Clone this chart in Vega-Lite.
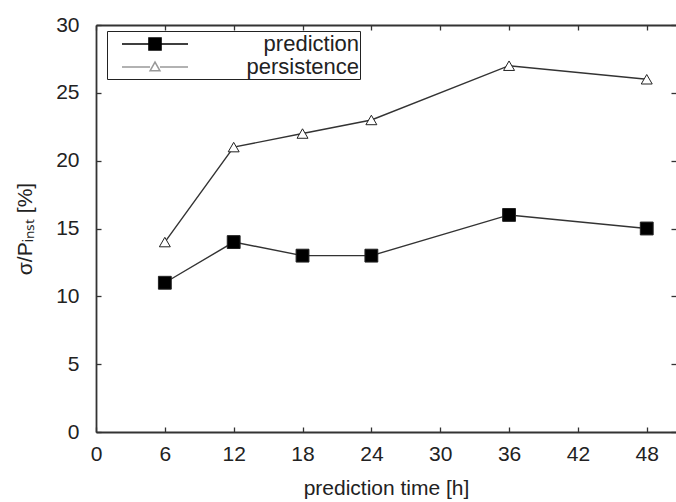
{
  "$schema": "https://vega.github.io/schema/vega-lite/v6.json",
  "width": 580,
  "height": 407,
  "autosize": {"type": "none"},
  "padding": {"left": 96, "top": 25, "right": 0, "bottom": 70},
  "background": "white",
  "config": {
    "view": {"stroke": null},
    "font": "Liberation Sans, Arial",
    "axis": {
      "grid": false,
      "domainColor": "#333",
      "domainWidth": 1.8,
      "tickColor": "#333",
      "tickWidth": 1.3,
      "tickSize": -5,
      "labelFont": "Liberation Sans, Arial",
      "labelFontSize": 21,
      "labelColor": "#222",
      "titleFont": "Liberation Sans, Arial",
      "titleFontSize": 21,
      "titleFontWeight": "normal",
      "titleColor": "#222"
    }
  },
  "data": {
    "values": [
      {"h": 6, "value": 11, "series": "prediction"},
      {"h": 12, "value": 14, "series": "prediction"},
      {"h": 18, "value": 13, "series": "prediction"},
      {"h": 24, "value": 13, "series": "prediction"},
      {"h": 36, "value": 16, "series": "prediction"},
      {"h": 48, "value": 15, "series": "prediction"},
      {"h": 6, "value": 14, "series": "persistence"},
      {"h": 12, "value": 21, "series": "persistence"},
      {"h": 18, "value": 22, "series": "persistence"},
      {"h": 24, "value": 23, "series": "persistence"},
      {"h": 36, "value": 27, "series": "persistence"},
      {"h": 48, "value": 26, "series": "persistence"}
    ]
  },
  "layer": [
    {
      "mark": {"type": "line", "color": "#333", "strokeWidth": 1.4},
      "encoding": {
        "x": {
          "field": "h", "type": "quantitative",
          "scale": {"domain": [0, 50.55], "nice": false, "zero": false},
          "axis": {"orient": "bottom", "values": [0, 6, 12, 18, 24, 30, 36, 42, 48], "labelPadding": 16, "title": "prediction time [h]", "titlePadding": 13, "labelFlush": false}
        },
        "y": {
          "field": "value", "type": "quantitative",
          "scale": {"domain": [0, 30], "nice": false},
          "axis": {"orient": "left", "values": [0, 5, 10, 15, 20, 25, 30], "labelPadding": 22, "title": "σ/Pᵢₙₛₜ [%]", "titlePadding": 20}
        },
        "detail": {"field": "series"}
      }
    },
    {
      "mark": {"type": "point", "filled": true, "stroke": "#222", "strokeWidth": 1, "opacity": 1},
      "encoding": {
        "x": {
          "field": "h", "type": "quantitative",
          "scale": {"domain": [0, 50.55], "nice": false, "zero": false},
          "axis": {"orient": "top", "values": [0, 6, 12, 18, 24, 30, 36, 42, 48], "labels": false, "title": null}
        },
        "y": {
          "field": "value", "type": "quantitative",
          "scale": {"domain": [0, 30], "nice": false},
          "axis": {"orient": "right", "values": [0, 5, 10, 15, 20, 25, 30], "labels": false, "title": null, "domain": false}
        },
        "shape": {
          "condition": {"test": "datum.series === 'prediction'", "value": "square"},
          "value": "triangle-up"
        },
        "fill": {
          "condition": {"test": "datum.series === 'prediction'", "value": "#000"},
          "value": "#fff"
        },
        "size": {
          "condition": {"test": "datum.series === 'prediction'", "value": 165},
          "value": 120
        }
      }
    },
    {
      "mark": {"type": "point", "filled": true, "opacity": 0},
      "encoding": {
        "x": {"field": "h", "type": "quantitative", "scale": {"domain": [0, 50.55], "nice": false, "zero": false}, "axis": null},
        "y": {"field": "value", "type": "quantitative", "scale": {"domain": [0, 30], "nice": false}, "axis": null},
        "shape": {
          "field": "series", "type": "nominal",
          "scale": {"domain": ["prediction", "persistence"], "range": ["M-3,0H3M-0.55,-0.55H0.55V0.55H-0.55Z", "M-3,0H-0.45M0.45,0H3M-0.45,0.35L0,-0.45L0.45,0.35Z"]},
          "legend": {
            "orient": "none", "legendX": 11, "legendY": 6,
            "title": null,
            "strokeColor": "#222",
            "padding": 1,
            "symbolSize": 484,
            "symbolOffset": 35,
            "symbolOpacity": 1,
            "symbolStrokeWidth": 1.5,
            "labelAlign": "right",
            "labelOffset": 192,
            "labelFontSize": 22,
            "labelFont": "Liberation Sans, Arial",
            "labelColor": "#222",
            "labelLimit": 400,
            "rowPadding": 0
          }
        },
        "fill": {
          "field": "series", "type": "nominal",
          "scale": {"domain": ["prediction", "persistence"], "range": ["#000", "#fff"]}
        },
        "stroke": {
          "field": "series", "type": "nominal",
          "scale": {"domain": ["prediction", "persistence"], "range": ["#000", "#999"]}
        }
      }
    }
  ],
  "resolve": {"axis": {"x": "independent", "y": "independent"}}
}
